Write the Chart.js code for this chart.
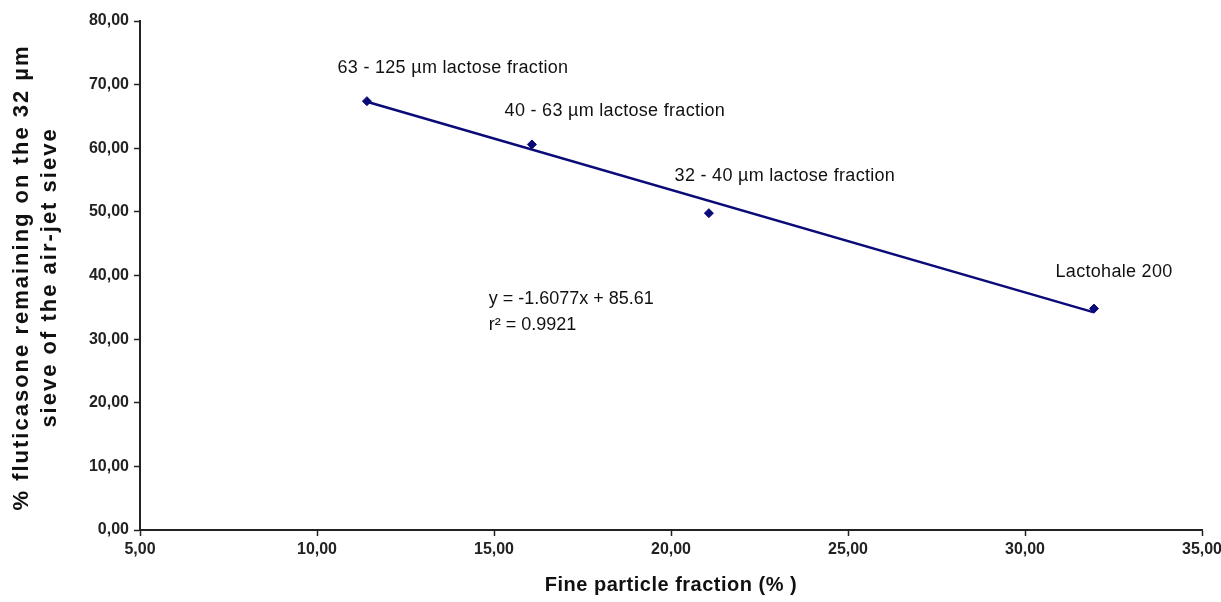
<!DOCTYPE html>
<html>
<head>
<meta charset="utf-8">
<script src="https://cdn.jsdelivr.net/npm/chart.js@4/dist/chart.umd.min.js"></script>
<style>
html,body{margin:0;padding:0;background:#fff;}
#wrap{width:1221px;height:602px;position:relative;}
</style>
</head>
<body>
<div id="wrap"><canvas id="c" width="1221" height="602"></canvas></div>
<script>
// ---- data ----
const fpf = [11.41, 16.07, 21.07, 31.95];           // Fine particle fraction (%)
const remaining = [67.4, 60.6, 49.8, 34.8];          // % fluticasone remaining
const pointLabels = ["63 - 125 µm lactose fraction", "40 - 63 µm lactose fraction", "32 - 40 µm lactose fraction", "Lactohale 200"];
const trendX = [11.41, 31.95];
const trendY = [67.3, 34.2];
const equationText = ["y = -1.6077x + 85.61", "r² = 0.9921"];
const xTicks = [5, 10, 15, 20, 25, 30, 35];
const yTicks = [0, 10, 20, 30, 40, 50, 60, 70, 80];
const xTitle = 'Fine particle fraction (% )';
const yTitle = ['% fluticasone remaining on the 32 µm', 'sieve of the air-jet sieve'];

const navy = '#0a0a78';
const FONT = '"Liberation Sans", Arial, sans-serif';
const fmt = v => v.toFixed(2).replace('.', ',');

const labelPlugin = {
  id: 'labels',
  afterDatasetsDraw(chart) {
    const ctx = chart.ctx, xs = chart.scales.x, ys = chart.scales.y;
    const offs = [[86, -33], [83, -33], [76, -37], [20, -37]];
    ctx.save();
    ctx.fillStyle = '#111';
    ctx.font = '18px ' + FONT;
    try { ctx.letterSpacing = '0.3px'; } catch (e) {}
    ctx.textAlign = 'center';
    ctx.textBaseline = 'middle';
    pointLabels.forEach((t, i) => {
      const px = xs.getPixelForValue(fpf[i]) + offs[i][0];
      const py = ys.getPixelForValue(remaining[i]) + offs[i][1];
      ctx.fillText(t, px, py);
    });
    // equation text
    ctx.textAlign = 'left';
    try { ctx.letterSpacing = '0px'; } catch (e) {}
    const ex = xs.getPixelForValue(14.85), ey = ys.getPixelForValue(36.3);
    ctx.fillText(equationText[0], ex, ey);
    ctx.fillText(equationText[1], ex, ey + 26);
    // y axis title (letter-spaced)
    const cy = (chart.chartArea.top + chart.chartArea.bottom) / 2 + 2;
    ctx.font = 'bold 22px ' + FONT;
    ctx.textAlign = 'center';
    try { ctx.letterSpacing = '2px'; } catch (e) {}
    [22, 50].forEach((cx, i) => {
      ctx.save();
      ctx.translate(cx, cy);
      ctx.rotate(-Math.PI / 2);
      ctx.fillText(yTitle[i], 0, 0);
      ctx.restore();
    });
    // x axis title
    ctx.font = 'bold 20px ' + FONT;
    try { ctx.letterSpacing = '0.5px'; } catch (e) {}
    ctx.fillText(xTitle, (chart.chartArea.left + chart.chartArea.right) / 2, 585);
    ctx.restore();
  }
};

new Chart(document.getElementById('c'), {
  type: 'scatter',
  data: {
    datasets: [
      {
        label: 'trend',
        type: 'line',
        data: trendX.map((x, i) => ({x, y: trendY[i]})),
        borderColor: navy,
        borderWidth: 2.5,
        pointRadius: 0,
        fill: false,
        order: 2
      },
      {
        label: 'data',
        data: fpf.map((x, i) => ({x, y: remaining[i]})),
        pointStyle: 'rectRot',
        pointRadius: 4.5,
        backgroundColor: navy,
        borderColor: navy,
        order: 1
      }
    ]
  },
  options: {
    responsive: false,
    animation: false,
    devicePixelRatio: 1,
    layout: { padding: { top: 21, right: 19, left: 0, bottom: 0 } },
    plugins: { legend: { display: false }, tooltip: { enabled: false } },
    scales: {
      x: {
        type: 'linear',
        min: 5, max: 35,
        afterBuildTicks: s => { s.ticks = xTicks.map(v => ({value: v})); },
        afterFit: s => { s.height = 72; s.paddingRight = 0; s.paddingLeft = 0; },
        grid: { display: true, drawOnChartArea: false, drawTicks: true, tickLength: 6, tickColor: '#222', tickWidth: 1.5 },
        border: { display: true, color: '#222', width: 2 },
        ticks: {
          color: '#222',
          font: { family: FONT, size: 16, weight: 'bold' },
          padding: 4,
          maxRotation: 0,
          callback: v => fmt(v)
        },
        title: { display: false }
      },
      y: {
        type: 'linear',
        min: 0, max: 80,
        afterBuildTicks: s => { s.ticks = yTicks.map(v => ({value: v})); },
        afterFit: s => { s.width = 140; s.paddingTop = 0; s.paddingBottom = 0; },
        grid: { display: true, drawOnChartArea: false, drawTicks: true, tickLength: 6, tickColor: '#222', tickWidth: 1.5 },
        border: { display: true, color: '#222', width: 2 },
        ticks: {
          color: '#222',
          font: { family: FONT, size: 16, weight: 'bold' },
          padding: 5,
          callback: v => fmt(v)
        },
        title: { display: false }
      }
    }
  },
  plugins: [labelPlugin]
});
</script>
</body>
</html>
